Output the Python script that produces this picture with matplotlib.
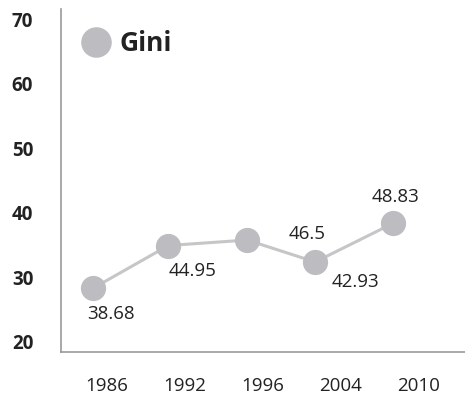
import matplotlib
matplotlib.use("Agg")
import matplotlib.pyplot as plt
from matplotlib.lines import Line2D

plt.rcParams['font.family'] = ['Open Sans', 'DejaVu Sans']

years = ["1986", "1992", "1996", "2004", "2010"]
x_pos = [-0.18, 0.79, 1.80, 2.67, 3.67]
values = [28.3, 34.95, 35.8, 32.4, 38.4]
labels = ["38.68", "44.95", "46.5", "42.93", "48.83"]
label_offsets = [(18, -26), (24, -25), (60, 6), (40, -20), (2, 26)]
yticks = [20, 30, 40, 50, 60, 70]

fig = plt.figure(figsize=(4.65, 4.01), dpi=100)
ax = fig.add_axes([61/465, 49/401, 1 - 61/465, 343/401])

marker_c = "#bdbdc1"
line_c = "#c6c6c8"
text_c = "#222222"
fs = 13.5

ax.plot(x_pos, values, color=line_c, lw=2.2, zorder=2)
ax.scatter(x_pos, values, s=330, color=marker_c, zorder=3, linewidths=0)

for xp, v, lab, off in zip(x_pos, values, labels, label_offsets):
    ax.annotate(lab, (xp, v), xytext=off, textcoords='offset pixels',
                ha='center', va='center', fontsize=fs, color=text_c)

ax.set_ylim(18.45, 71.6)
ax.set_xlim(-0.586, 4.59)
ax.set_yticks(yticks)
ax.set_yticklabels([str(t) for t in yticks], fontweight='bold', fontsize=fs, color=text_c)
ax.set_xticks(range(len(years)))
ax.set_xticklabels(years, fontsize=fs, color=text_c)
ax.tick_params(axis='y', length=0, pad=20)
ax.tick_params(axis='x', length=0, pad=18)

for s in ['top', 'right']:
    ax.spines[s].set_visible(False)
for s in ['left', 'bottom']:
    ax.spines[s].set_color('#999999')
    ax.spines[s].set_linewidth(1.2)

# legend
handle = Line2D([], [], marker='o', linestyle='none', markersize=22,
                markerfacecolor=marker_c, markeredgewidth=0)
leg = ax.legend([handle], ["Gini"], loc='center left', bbox_to_anchor=(0.047, 0.898),
                frameon=False, handlelength=1.2, handletextpad=0.3,
                borderaxespad=0, borderpad=0,
                prop={'weight': 'bold', 'size': 19})
for t in leg.get_texts():
    t.set_color(text_c)

fig.savefig("out.png", dpi=100)
